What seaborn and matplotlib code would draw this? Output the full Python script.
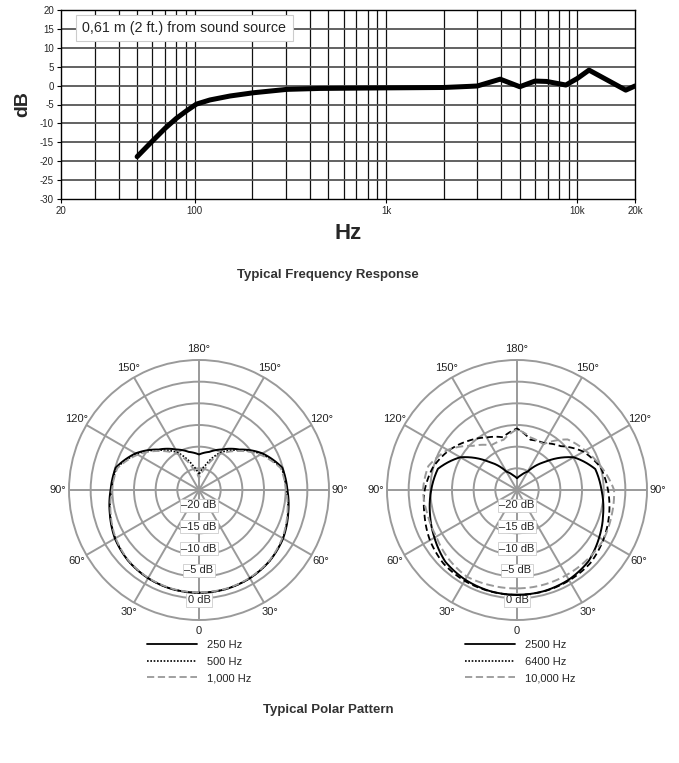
import numpy as np
import pandas as pd
import matplotlib
matplotlib.use("Agg")
import matplotlib.pyplot as plt
from matplotlib.lines import Line2D
import seaborn as sns

# frequency response (Hz, dB)
fr_hz = [50, 58.4, 70, 80, 91, 102, 120, 153, 202, 303, 450, 1000, 2000, 2740, 3000,
         3950, 5000, 6000, 6900, 8700, 10000, 11500, 14900, 17900, 20000]
fr_db = [-18.8, -15.3, -11.3, -8.7, -6.6, -4.9, -3.8, -2.75, -1.9, -1.0, -0.75, -0.6, -0.5,
         -0.2, -0.1, 1.7, -0.3, 1.2, 1.1, 0.15, 1.9, 4.1, 1.0, -1.2, -0.1]

x_ticks = [20, 100, 1000, 10000, 20000]
x_tick_labels = ["20", "100", "1k", "10k", "20k"]
x_minor = [30, 40, 50, 60, 70, 80, 90, 200, 300, 400, 500, 600, 700, 800, 900,
           2000, 3000, 4000, 5000, 6000, 7000, 8000, 9000]

# polar patterns: angle (deg, clockwise from front, left side first) and dB
angles = list(range(0, 361, 15))
p250 = [-1.3, -1.3, -1.5, -1.9, -2.6, -3.7, -4.6, -5.1, -8.1, -11.8, -14.2, -15.9, -16.8,
        -15.9, -14.2, -11.8, -8.1, -5.1, -4.6, -3.7, -2.6, -1.9, -1.5, -1.3, -1.3]
p500 = [-1.3, -1.3, -1.5, -1.9, -2.7, -3.8, -4.8, -5.3, -8.4, -12.0, -15.0, -19.0, -21.5,
        -19.0, -15.0, -12.0, -8.4, -5.3, -4.8, -3.8, -2.7, -1.9, -1.5, -1.3, -1.3]
p1000 = [-1.4, -1.4, -1.6, -2.0, -2.8, -3.9, -4.9, -5.5, -8.7, -12.3, -15.5, -20.0, -22.3,
         -20.0, -15.5, -12.3, -8.7, -5.5, -4.9, -3.9, -2.8, -2.0, -1.6, -1.4, -1.4]
p2500 = [-0.8, -0.85, -1.1, -1.6, -3.0, -4.2, -5.2, -6.1, -9.9, -15.8, -20.1, -21.5, -22.3,
         -21.5, -20.1, -15.8, -9.9, -6.3, -5.5, -4.4, -3.1, -1.7, -1.1, -0.85, -0.8]
p6400 = [-0.8, -0.8, -0.8, -1.0, -1.8, -2.9, -3.7, -4.9, -6.8, -9.0, -11.0, -12.4, -10.8,
         -13.0, -12.5, -10.7, -7.3, -5.0, -4.0, -3.0, -2.0, -1.1, -0.9, -0.8, -0.8]
p10000 = [-2.3, -2.2, -1.9, -2.6, -3.5, -3.6, -3.3, -3.8, -6.5, -10.6, -13.1, -13.0, -11.0,
          -12.5, -12.8, -8.5, -6.8, -4.8, -2.6, -2.4, -2.0, -2.2, -2.3, -2.3, -2.3]

left_series = [("250 Hz", p250), ("500 Hz", p500), ("1,000 Hz", p1000)]
right_series = [("2500 Hz", p2500), ("6400 Hz", p6400), ("10,000 Hz", p10000)]

ring_db = [-20, -15, -10, -5, 0]
ring_labels = ["\u201320 dB", "\u201315 dB", "\u201310 dB", "\u20135 dB", "0 dB"]
theta_labels = ["0", "30°", "60°", "90°", "120°", "150°", "180°",
                "150°", "120°", "90°", "60°", "30°"]

sns.set_theme(style="white")
plt.rcParams["font.family"] = ["Liberation Sans", "DejaVu Sans"]
plt.rcParams["axes.unicode_minus"] = False

fig = plt.figure(figsize=(6.79, 7.63), dpi=100)

# ---- frequency response
ax = fig.add_axes([61 / 679, 1 - 199 / 763, 574 / 679, 189 / 763])
ax.set_xscale("log")
ax.set_xlim(20, 20000)
ax.set_ylim(-30, 20)
for f in x_minor + [1000, 100, 10000]:
    ax.axvline(f, color="#111111", lw=0.9, zorder=1)
for y in range(-25, 20, 5):
    ax.axhline(y, color="#555555", lw=1.3, zorder=1)
sns.lineplot(x=fr_hz, y=fr_db, ax=ax, color="black", lw=3.6, zorder=3, sort=False)
ax.set_xticks(x_ticks)
ax.set_xticklabels(x_tick_labels)
ax.xaxis.set_minor_locator(matplotlib.ticker.NullLocator())
ax.set_yticks(range(-30, 21, 5))
ax.tick_params(axis="both", labelsize=7, length=3, width=0.8, color="black",
               direction="out", left=True, bottom=True, pad=2)
for s in ax.spines.values():
    s.set_color("black")
    s.set_linewidth(1.0)
ax.set_xlabel("Hz", fontsize=16, fontweight="bold", labelpad=5)
ax.set_ylabel("dB", fontsize=14, fontweight="bold", labelpad=6)
ax.text(0.037, 0.905, "0,61 m (2 ft.) from sound source", transform=ax.transAxes,
        fontsize=10.3, ha="left", va="center", zorder=5,
        bbox=dict(boxstyle="square,pad=0.45", fc="white", ec="#cccccc", lw=0.8))
fig.text(328 / 679, 1 - 275 / 763, "Typical Frequency Response", ha="center", va="center",
         fontsize=9.5, fontweight="bold", color="#333333")


# ---- polar patterns
def polar_panel(cx, series, styles):
    pax = fig.add_axes([(cx - 130) / 679, 1 - 620 / 763, 260 / 679, 260 / 763],
                       projection="polar")
    pax.set_theta_zero_location("S")
    pax.set_theta_direction(-1)
    pax.set_ylim(-25, 5)
    pax.set_yticks(ring_db)
    pax.set_yticklabels([])
    pax.set_thetagrids(range(0, 360, 30), theta_labels, fontsize=8, color="#222222")
    pax.tick_params(axis="x", pad=-5)
    pax.grid(True, color="#9a9a9a", lw=1.4)
    pax.spines["polar"].set_color("#9a9a9a")
    pax.spines["polar"].set_linewidth(1.4)
    pax.set_facecolor("white")
    th = np.deg2rad(angles)
    for (lab, vals), st in zip(series, styles):
        df = pd.DataFrame({"theta": th, "db": vals})
        sns.lineplot(data=df, x="theta", y="db", ax=pax, sort=False, label=lab,
                     color=st["color"], lw=st["lw"], linestyle=st["ls"], zorder=4)
    for line in pax.lines:
        line.get_path()._interpolation_steps = 40
    pax.set_xlabel("")
    pax.set_ylabel("")
    pax.get_legend().remove()
    offs = [-1.5, -1.5, -1.5, -1.5, 0.4]
    for r, lab, o in zip(ring_db, ring_labels, offs):
        pax.text(0, r + o, lab, fontsize=8, ha="center", va="center", zorder=3,
                 bbox=dict(boxstyle="square,pad=0.15", fc="white", ec="#cccccc", lw=0.6))
    return pax


right_styles = [dict(color="black", lw=1.4, ls="-"),
                dict(color="black", lw=1.3, ls=(0, (3.5, 2))),
                dict(color="#999999", lw=1.4, ls=(0, (4, 2)))]
left_styles = [dict(color="black", lw=1.4, ls="-"),
               dict(color="black", lw=1.2, ls=(0, (1, 1))),
               dict(color="#999999", lw=1.3, ls=(0, (4, 2)))]
polar_panel(199, left_series, left_styles)
polar_panel(517, right_series, right_styles)

legend_styles = [dict(color="black", lw=1.3, ls="-"),
                 dict(color="black", lw=1.2, ls=(0, (1, 1))),
                 dict(color="#999999", lw=1.3, ls=(0, (4, 2)))]
for x0, series in [(147, left_series), (465, right_series)]:
    handles = [Line2D([], [], color=st["color"], lw=st["lw"], linestyle=st["ls"])
               for st in legend_styles]
    fig.legend(handles, [s[0] for s in series], loc="upper left",
               bbox_to_anchor=(x0 / 679, 1 - 640 / 763), frameon=False, fontsize=8,
               handlelength=4.5, handletextpad=0.9, labelspacing=0.6,
               borderpad=0, borderaxespad=0)

fig.text(328 / 679, 1 - 710 / 763, "Typical Polar Pattern", ha="center", va="center",
         fontsize=9.5, fontweight="bold", color="#333333")

fig.savefig("out.png", dpi=100)
